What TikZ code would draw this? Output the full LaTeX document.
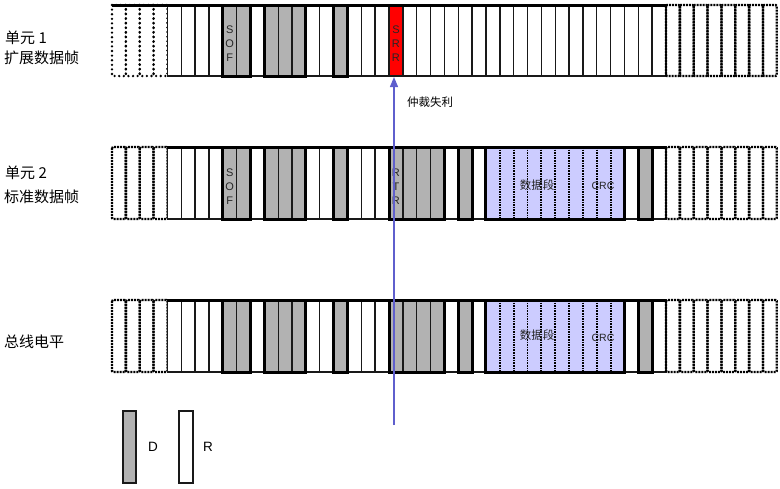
\documentclass[tikz,border=0pt]{standalone}
\usepackage{fontspec}
\setmainfont{Liberation Sans}
\newfontfamily\cjk{Noto Sans CJK SC}
\usetikzlibrary{arrows.meta}

\definecolor{domfill}{RGB}{178,178,178}
\definecolor{datafill}{RGB}{204,204,255}
\definecolor{srrred}{RGB}{255,0,0}
\definecolor{lossblue}{RGB}{95,95,205}

\tikzset{
  bitcell/.style={draw=black!90, line width=1.4pt},
  dombit/.style={bitcell, fill=domfill},
  recbit/.style={bitcell, fill=white},
  idlebit/.style={draw=black, line width=2.3pt, dash pattern=on 2pt off 1pt, rounded corners=1pt},
  idledot/.style={draw=black, line width=2.6pt, line cap=round, dash pattern=on 0pt off 4.6pt},
  databit/.style={draw=black, line width=1.8pt, dash pattern=on 1.6pt off 1pt},
  level/.style={draw=black, line width=3pt},
  rowlabel/.style={font=\cjk\fontsize{15}{18}\selectfont, anchor=west, inner sep=0pt},
  bitlabel/.style={font=\fontsize{11}{14}\selectfont, align=center, text=black!85, inner sep=0pt},
  datalabel/.style={font=\cjk\fontsize{11.5}{14}\selectfont, text=black!85, inner sep=0pt},
  crclabel/.style={font=\fontsize{10.5}{13}\selectfont, text=black!85, inner sep=0pt},
}

% 一串相同的位
\newcommand{\bitrun}[5]{\foreach \k in {#2,...,#3}{\draw[#1] (\k,#4) rectangle ({\k+1},#5);}}

\begin{document}
\begin{tikzpicture}[x=1pt, y=-1pt]
    \useasboundingbox (0,0) rectangle (780,488);

    \begin{scope}[xshift=112pt, x=13.85pt]
    % 单元 1：扩展数据帧
    \foreach \k in {0,...,3} \draw[idledot] (\k,5) rectangle ({\k+1},76);
    \bitrun{recbit}{4}{7}{5}{76}
    \bitrun{dombit}{8}{9}{5}{76}
    \bitrun{recbit}{10}{10}{5}{76}
    \bitrun{dombit}{11}{13}{5}{76}
    \bitrun{recbit}{14}{15}{5}{76}
    \bitrun{dombit}{16}{16}{5}{76}
    \bitrun{recbit}{17}{19}{5}{76}
    \draw[bitcell, fill=srrred] (20,5) rectangle (21,76);
    \bitrun{recbit}{21}{39}{5}{76}
    \bitrun{idlebit}{40}{47}{5}{76}
    \draw[level] (0,5) -- (40,5);
    \draw[level] (8,5) rectangle (10,76);
    \draw[level] (11,5) rectangle (14,76);
    \draw[level] (16,5) rectangle (17,76);
    \node[bitlabel] (sof1) at (8.5,44) {S\\O\\F};
    \node[bitlabel] (srr) at (20.5,44) {S\\R\\R};

    % 单元 2 与总线电平
    \foreach \t/\b in {147/219, 300/372}{
      \bitrun{idlebit}{0}{3}{\t}{\b}
      \bitrun{recbit}{4}{7}{\t}{\b}
      \bitrun{dombit}{8}{9}{\t}{\b}
      \bitrun{recbit}{10}{10}{\t}{\b}
      \bitrun{dombit}{11}{13}{\t}{\b}
      \bitrun{recbit}{14}{15}{\t}{\b}
      \bitrun{dombit}{16}{16}{\t}{\b}
      \bitrun{recbit}{17}{19}{\t}{\b}
      \bitrun{dombit}{20}{23}{\t}{\b}
      \bitrun{recbit}{24}{24}{\t}{\b}
      \bitrun{dombit}{25}{25}{\t}{\b}
      \bitrun{recbit}{26}{26}{\t}{\b}
      \fill[datafill] (27,\t) rectangle (37,\b);
      \foreach \k in {28,...,36} \draw[databit] (\k,\t) -- (\k,\b);
      \bitrun{recbit}{37}{37}{\t}{\b}
      \bitrun{dombit}{38}{38}{\t}{\b}
      \bitrun{recbit}{39}{39}{\t}{\b}
      \bitrun{idlebit}{40}{47}{\t}{\b}
      \draw[level] (4,\t) -- (40,\t);
      \draw[level] (8,\t) rectangle (10,\b);
      \draw[level] (11,\t) rectangle (14,\b);
      \draw[level] (16,\t) rectangle (17,\b);
      \draw[level] (20,\t) rectangle (24,\b);
      \draw[level] (25,\t) rectangle (26,\b);
      \draw[level] (27,\t) rectangle (37,\b);
      \draw[level] (38,\t) rectangle (39,\b);
    }
    \node[bitlabel] (sof2) at (8.5,186.5) {S\\O\\F};
    \node[bitlabel] (rtr) at (20.5,186.5) {R\\T\\R};
    \node[datalabel] (data2) at (30.7,185) {数据段};
    \node[crclabel] (crc2) at (35.45,186) {CRC};
    \node[datalabel] (data3) at (30.7,335) {数据段};
    \node[crclabel] (crc3) at (35.45,338) {CRC};
    \end{scope}

    % 行标题
    \node[rowlabel] (unit1) at (5,38) {单元 1};
    \node[rowlabel] (ext1) at (4,58) {扩展数据帧};
    \node[rowlabel] (unit2) at (5,173) {单元 2};
    \node[rowlabel] (std2) at (4,197) {标准数据帧};
    \node[rowlabel] (buslvl) at (4,342) {总线电平};

    % 仲裁失利
    \coordinate (lossfoot) at (394,425);
    \coordinate (losstip) at (394,77);
    \draw[lossblue, line width=1.3pt, -{Triangle[length=10pt, width=8pt]}] (lossfoot) -- (losstip);
    \node[font=\cjk\fontsize{11.5}{14}\selectfont, anchor=west, inner sep=0pt] (losstxt) at (407,102) {仲裁失利};

    % 图例
    \draw[bitcell, fill=domfill] (123,411) rectangle (136,483);
    \node[font=\fontsize{13.5}{15}\selectfont, inner sep=0pt] (legd) at (153,447) {D};
    \draw[bitcell, fill=white] (179,411) rectangle (193,483);
    \node[font=\fontsize{13.5}{15}\selectfont, inner sep=0pt] (legr) at (208,447) {R};
\end{tikzpicture}
\end{document}
